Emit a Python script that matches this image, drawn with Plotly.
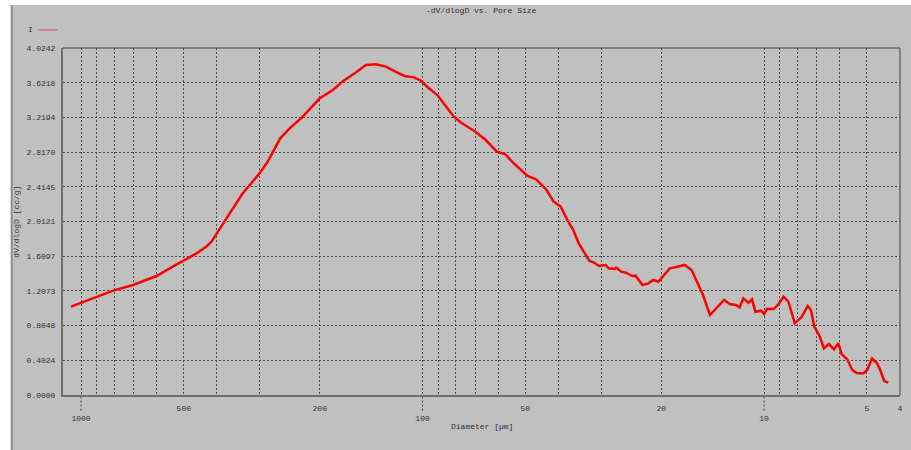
import plotly.graph_objects as go

# Pore size distribution: -dV/dlogD against pore diameter
diameter_um = [1070, 900, 805, 704, 632, 601, 550, 497, 459, 430, 415, 375, 336, 300,
               284, 261, 245, 226, 200, 183, 171, 158, 146.5, 137, 128, 120, 113, 106,
               101, 97, 90.5, 86, 81, 77, 70, 65.3, 60.6, 57.4, 53.8, 49.3, 46.5, 43.5,
               41.3, 39.4, 37.7, 36.2, 34.9, 32.5, 31.6, 30.4, 29.1, 28.5, 27.4, 27.1,
               26.2, 25.4, 24.3, 23.8, 22.7, 21.8, 21.1, 20.4, 18.9, 18.2, 17.1, 16.3,
               15.8, 15.1, 14.4, 13.8, 13.1, 12.6, 12.1, 11.8, 11.5, 11.1, 10.85, 10.6,
               10.2, 10.0, 9.8, 9.37, 9.07, 8.77, 8.49, 8.13, 7.78, 7.45, 7.29, 7.13,
               6.90, 6.68, 6.46, 6.24, 6.06, 5.93, 5.71, 5.52, 5.34, 5.11, 4.99, 4.83,
               4.67, 4.57, 4.45, 4.33]
dv_dlogd = [1.024, 1.140, 1.210, 1.276, 1.342, 1.380, 1.469, 1.566, 1.643, 1.720, 1.778,
            2.049, 2.339, 2.571, 2.706, 2.977, 3.093, 3.215, 3.441, 3.537, 3.640, 3.731,
            3.827, 3.835, 3.808, 3.750, 3.700, 3.684, 3.645, 3.575, 3.479, 3.363, 3.228,
            3.158, 3.054, 2.957, 2.822, 2.795, 2.679, 2.540, 2.501, 2.385, 2.242, 2.184,
            2.030, 1.913, 1.759, 1.558, 1.539, 1.496, 1.508, 1.469, 1.461, 1.477, 1.430,
            1.418, 1.380, 1.384, 1.276, 1.295, 1.334, 1.314, 1.469, 1.481, 1.508, 1.450,
            1.334, 1.160, 0.928, 1.005, 1.102, 1.055, 1.044, 1.017, 1.121, 1.070, 1.109,
            0.966, 0.978, 0.939, 1.001, 0.997, 1.055, 1.140, 1.082, 0.831, 0.901, 1.032,
            0.986, 0.792, 0.696, 0.542, 0.591, 0.530, 0.600, 0.475, 0.414, 0.290, 0.252,
            0.252, 0.290, 0.425, 0.367, 0.290, 0.162, 0.143]

y_max = 4.02424
y_ticks = [i * y_max / 10 for i in range(11)]
y_ticktext = [f"{v:.4f}" for v in y_ticks]

x_grid = [1000, 900, 800, 700, 600, 500, 400, 300, 200,
          100, 90, 80, 70, 60, 50, 40, 30, 20,
          10, 9, 8, 7, 6, 5, 4]
x_labels = {1000: "<br>1000", 500: "500", 200: "200", 100: "<br>100",
            50: "50", 20: "20", 10: "<br>10", 5: "5", 4: "4"}
x_ticktext = [x_labels.get(v, "") for v in x_grid]
x_extended = [1000, 100, 10]

BG = "#C0C0C0"
TXT = "#303030"
GRID = "#4a4a4a"
FONT = "Liberation Mono"

fig = go.Figure()
fig.add_trace(go.Scatter(x=diameter_um, y=dv_dlogd, mode="lines",
                         line=dict(color="#FF0000", width=2.5), name="I",
                         showlegend=False))

fig.update_xaxes(type="log", range=[3.0527, 0.60206], tickvals=x_grid,
                 ticktext=x_ticktext, showgrid=True, gridcolor=GRID, gridwidth=1,
                 griddash="2px,2px", ticks="", ticklabelstandoff=4,
                 tickfont=dict(family=FONT, size=8, color=TXT),
                 showline=True, linecolor="#6e6e6e", linewidth=2, zeroline=False)
fig.update_yaxes(range=[0, y_max], tickvals=y_ticks, ticktext=y_ticktext,
                 showgrid=True, gridcolor=GRID, gridwidth=1, griddash="2px,2px",
                 ticks="", ticklabelstandoff=4,
                 tickfont=dict(family=FONT, size=8, color=TXT),
                 showline=True, linecolor="#6e6e6e", linewidth=2, zeroline=False)

shapes = [
    # white margin strips and window edge
    dict(type="rect", xref="paper", yref="paper", x0=-0.08, x1=-0.0619,
         y0=-0.2, y1=1.2, fillcolor="white", line_width=0, layer="below"),
    dict(type="rect", xref="paper", yref="paper", x0=-0.08, x1=1.02,
         y0=1.1239, y1=1.2, fillcolor="white", line_width=0, layer="below"),
    dict(type="line", xref="paper", yref="paper", x0=-0.0613, x1=-0.0613,
         y0=-0.2, y1=1.1239, line=dict(color="#8c8c8c", width=2)),
    # frame top and right
    dict(type="line", xref="paper", yref="paper", x0=0, x1=1, y0=1, y1=1,
         line=dict(color="#404040", width=1)),
    dict(type="line", xref="paper", yref="paper", x0=1, x1=1, y0=0, y1=1,
         line=dict(color="#404040", width=1)),
    # legend sample line
    dict(type="line", xref="paper", yref="paper", x0=-0.0298, x1=-0.006,
         y0=1.0519, y1=1.0519, line=dict(color="#E05050", width=1)),
]
for v in x_extended:
    shapes.append(dict(type="line", xref="x", yref="paper", x0=v, x1=v,
                       y0=-0.045, y1=0, line=dict(color=GRID, width=1, dash="2px,2px")))

annotations = [
    dict(text="-dV/dlogD vs. Pore Size", xref="paper", yref="paper", x=0.5, y=1.1095,
         showarrow=False, font=dict(family=FONT, size=8, color=TXT), yanchor="middle"),
    dict(text="I", xref="paper", yref="paper", x=-0.0393, y=1.0519,
         showarrow=False, font=dict(family=FONT, size=8, color=TXT),
         xanchor="center", yanchor="middle"),
    dict(text="Diameter [µm]", xref="paper", yref="paper", x=0.5, y=-0.0922,
         showarrow=False, font=dict(family=FONT, size=8, color=TXT), yanchor="middle"),
    dict(text="dV/dlogD [cc/g]", xref="paper", yref="paper", x=-0.056, y=0.5,
         textangle=-90, showarrow=False, font=dict(family=FONT, size=8, color=TXT),
         xanchor="center", yanchor="middle"),
]

fig.update_layout(width=911, height=450, margin=dict(l=63, r=8, t=48, b=55),
                  paper_bgcolor=BG, plot_bgcolor=BG, shapes=shapes,
                  annotations=annotations, showlegend=False)

fig.write_html("out.html")
